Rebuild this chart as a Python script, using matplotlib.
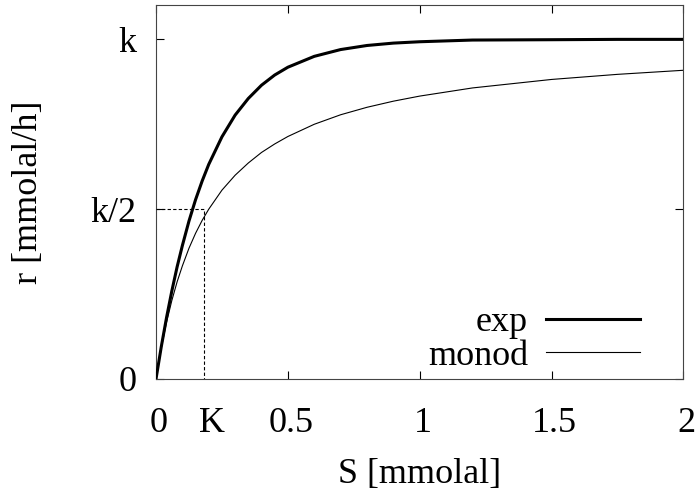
import numpy as np
import matplotlib
matplotlib.use("Agg")
import matplotlib.pyplot as plt
import matplotlib.transforms as mtrans

plt.rcParams["font.family"] = ["Liberation Serif", "DejaVu Serif"]

# substrate concentration S [mmolal] and rates r / k
S = [0, 0.02, 0.04, 0.06, 0.08, 0.10, 0.125, 0.15, 0.175, 0.2, 0.25, 0.3,
     0.35, 0.4, 0.45, 0.5, 0.6, 0.7, 0.8, 0.9, 1.0, 1.2, 1.5, 1.75, 2.0]
r_exp = [0, 0.095, 0.181, 0.259, 0.330, 0.393, 0.465, 0.528, 0.583, 0.632,
         0.713, 0.777, 0.826, 0.865, 0.895, 0.918, 0.950, 0.970, 0.982,
         0.989, 0.993, 0.998, 0.999, 1.0, 1.0]
r_monod = [0, 0.091, 0.167, 0.231, 0.286, 0.333, 0.385, 0.429, 0.467, 0.5,
           0.556, 0.6, 0.636, 0.667, 0.692, 0.714, 0.75, 0.778, 0.8, 0.818,
           0.833, 0.857, 0.882, 0.897, 0.909]
K_line = 0.182
xticks = [0, 0.2, 0.5, 1, 1.5, 2]
xticklabels = ["0", "K", "0.5", "1", "1.5", "2"]
yticks = [0, 0.5, 1]
yticklabels = ["0", "k/2", "k"]

fs = 26
fig = plt.figure(figsize=(6.98, 4.92), dpi=100)
ax = fig.add_axes([0.2235, 0.2297, 0.7557, 0.760])

ax.plot(S, r_exp, "-", color="black", lw=2.2, label="exp", zorder=4)
ax.plot(S, r_monod, "-", color="black", lw=0.8, label="monod", zorder=4)
ax.plot([0, K_line, K_line], [0.5, 0.5, 0], color="black", lw=0.8,
        ls=(0, (3, 2)), zorder=3)

ax.set_xlim(0, 2); ax.set_ylim(0, 1.101)
ax.set_xticks(xticks); ax.set_xticklabels(xticklabels)
ax.set_yticks(yticks); ax.set_yticklabels(yticklabels)
ax.tick_params(axis="both", direction="in", length=6, width=0.8, top=True,
               right=True, labelsize=fs)
ax.tick_params(axis="x", pad=20)
ax.tick_params(axis="y", pad=14)
ax.xaxis.get_major_ticks()[1].tick1line.set_visible(False)
ax.xaxis.get_major_ticks()[1].tick2line.set_visible(False)
shift = mtrans.ScaledTranslation(3 / 100, 0, fig.dpi_scale_trans)
for lab in ax.get_xticklabels():
    lab.set_transform(lab.get_transform() + shift)
for sp in ax.spines.values():
    sp.set_linewidth(0.8); sp.set_color("#444444")

ax.set_xlabel("S [mmolal]", fontsize=fs, labelpad=13)
ax.set_ylabel("r [mmolal/h]", fontsize=fs, labelpad=33)
ax.legend(loc="lower right", bbox_to_anchor=(0.9175, 0.017), frameon=False,
          markerfirst=False, fontsize=fs, handlelength=2.6, handletextpad=0.5,
          labelspacing=0.0, borderpad=0, borderaxespad=0)

fig.savefig("out.png", dpi=100)
